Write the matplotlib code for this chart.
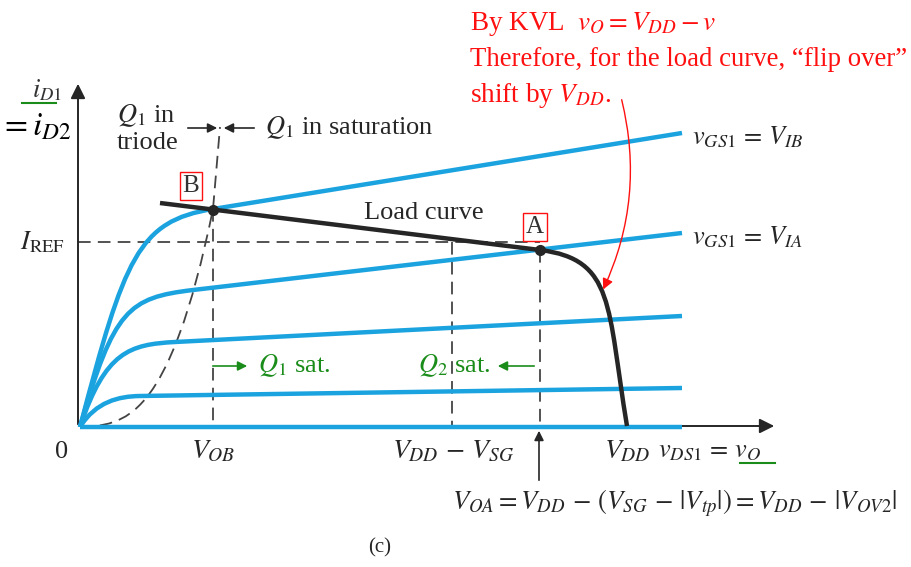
import matplotlib
matplotlib.use("Agg")
import matplotlib.pyplot as plt
from matplotlib.path import Path
from matplotlib.patches import PathPatch, FancyArrowPatch

plt.rcParams['font.family'] = ['Liberation Serif', 'DejaVu Serif']
plt.rcParams['mathtext.fontset'] = 'stix'

# drain characteristics of Q1 (units: horizontal = v_DS, vertical = i_D)
v_end = 602
knee_v = [133, 113, 95, 60]
knee_i = [218, 137, 85, 31]
end_i = [294, 194, 111, 39]
start_handle = [(44.6, 169), (33.8, 118), (25.2, 75.7), (15.9, 25.4)]
knee_handle = [(57.7, 206), (48.5, 129.3), (49.8, 82.6), (38.8, 30.7)]

# triode / saturation boundary
boundary_pts = [(0, 0), (44, 2), (89, 4), (133, 218)]
boundary_top = (140, 300)

# load curve (Q2 characteristic, flipped and shifted by V_DD)
load_start = (80, 224)
point_B = (133, 218)
point_A = (460, 177)
load_handles = [(535, 167.7), (527, 121)]
V_DD = 547
I_REF = 185
V_DD_minus_VSG = 372

blue = '#1ba3e0'
dark = '#262626'
green = '#1a8c1a'
red = '#ff1010'

fig = plt.figure(figsize=(9.11, 5.67), dpi=100)
ax = fig.add_axes([0, 0, 1, 1])
ax.set_xlim(-80, 831)
ax.set_ylim(-140, 427)
ax.axis('off')

# axes with arrows
ax.annotate('', xy=(-2, 346), xytext=(-2, 0),
            arrowprops=dict(arrowstyle='-|>', color=dark, lw=1.4, mutation_scale=22))
ax.annotate('', xy=(697, 1), xytext=(-2, 1),
            arrowprops=dict(arrowstyle='-|>', color=dark, lw=1.4, mutation_scale=22))

dash = (0, (7, 4))
# dashed guides
ax.plot([-2, point_A[0]], [I_REF, I_REF], color='#444444', lw=1.3, ls=dash, zorder=2)
ax.plot([point_B[0], point_B[0]], [point_B[1], 0], color='#444444', lw=1.3, ls=dash, zorder=2)
ax.plot([V_DD_minus_VSG, V_DD_minus_VSG], [I_REF, 0], color='#444444', lw=1.3, ls=dash, zorder=2)
ax.plot([point_A[0], point_A[0]], [point_A[1], 0], color='#444444', lw=1.3, ls=dash, zorder=2)

bpath = Path(boundary_pts + [boundary_top],
             [Path.MOVETO, Path.CURVE4, Path.CURVE4, Path.CURVE4, Path.LINETO])
ax.add_patch(PathPatch(bpath, fill=False, ec='#444444', lw=1.3, ls=dash, zorder=2))

# blue family of curves
for kv, ki, ei, h1, h2 in zip(knee_v, knee_i, end_i, start_handle, knee_handle):
    p = Path([(0, 0), h1, h2, (kv, ki), (v_end, ei)],
             [Path.MOVETO, Path.CURVE4, Path.CURVE4, Path.CURVE4, Path.LINETO])
    ax.add_patch(PathPatch(p, fill=False, ec=blue, lw=3.2, capstyle='butt', zorder=3))
ax.plot([0, v_end], [0, 0], color=blue, lw=3.2, solid_capstyle='butt', zorder=3)

# load curve
lpath = Path([load_start, point_A, load_handles[0], load_handles[1], (V_DD, 1)],
             [Path.MOVETO, Path.LINETO, Path.CURVE4, Path.CURVE4, Path.CURVE4])
ax.add_patch(PathPatch(lpath, fill=False, ec=dark, lw=3.2, capstyle='butt', zorder=4))
ax.plot([point_B[0], point_A[0]], [point_B[1] - 0.5, point_A[1]], 'o',
        color=dark, ms=7, zorder=5)

fs = 19
box = dict(boxstyle='square,pad=0.12', fc='white', ec=red, lw=1)
ax.text(point_B[0] - 22, 241, 'B', fontsize=18, ha='center', va='center', color='#333333',
        bbox=box, zorder=6)
ax.text(point_A[0] - 5, 200, 'A', fontsize=18, ha='center', va='center', color='#333333',
        bbox=box, zorder=6)
ax.text(344, 214, 'Load curve', fontsize=fs, ha='center', va='center', color=dark)

# vertical axis label
ax.text(-33, 337, '$i_{D1}$', fontsize=19, ha='center', va='center', color='#333333')
ax.plot([-58, -24], [324, 324], color=green, lw=1.5)
ax.text(-44, 300, '$=i_{D2}$', fontsize=24, ha='center', va='center', color='black')
ax.text(-15, 185, r'$I_{\mathrm{REF}}$', fontsize=fs, ha='right', va='center', color=dark)

# triode / saturation marker
ax.text(37, 311, '$Q_1$ in', fontsize=fs, ha='left', va='center', color=dark)
ax.text(37, 284, 'triode', fontsize=fs, ha='left', va='center', color=dark)
ax.annotate('', xy=(140, 299), xytext=(105, 299),
            arrowprops=dict(arrowstyle='-|>', color=dark, lw=1.2, mutation_scale=14))
ax.annotate('', xy=(141, 299), xytext=(177, 299),
            arrowprops=dict(arrowstyle='-|>', color=dark, lw=1.2, mutation_scale=14))
ax.text(185, 299, '$Q_1$ in saturation', fontsize=fs, ha='left', va='center', color=dark)

ax.text(612, 290, '$v_{GS1}\\,=\\,V_{IB}$', fontsize=fs, ha='left', va='center', color=dark)
ax.text(612, 190, '$v_{GS1}\\,=\\,V_{IA}$', fontsize=fs, ha='left', va='center', color=dark)

# horizontal axis labels
ax.text(-18, -25, '0', fontsize=fs, ha='center', va='center', color=dark)
ax.text(point_B[0], -25, '$V_{OB}$', fontsize=20, ha='center', va='center', color=dark)
ax.text(V_DD_minus_VSG + 1, -25, '$V_{DD}\\,-\\,V_{SG}$', fontsize=20, ha='center', va='center',
        color=dark)
ax.text(V_DD, -25, '$V_{DD}$', fontsize=20, ha='center', va='center', color=dark)
ax.text(578, -25, '$v_{DS1}\\,=\\,v_O$', fontsize=fs, ha='left', va='center', color=dark)
ax.plot([660, 695], [-36, -36], color=green, lw=1.5)

ax.annotate('', xy=(point_A[0] - 1, -1), xytext=(point_A[0] - 1, -56),
            arrowprops=dict(arrowstyle='-|>', color=dark, lw=1.2, mutation_scale=14))
ax.text(372, -76, '$V_{OA} = V_{DD}\\,-\\,(V_{SG}\\,-\\,|V_{tp}|) = V_{DD}\\,-\\,|V_{OV2}|$',
        fontsize=19.3, ha='left', va='center', color=dark)
ax.text(300, -121, '(c)', fontsize=15, ha='center', va='center', color=dark)

# saturation regions
ax.annotate('', xy=(170, 61), xytext=(130, 61),
            arrowprops=dict(arrowstyle='-|>', color=green, lw=1.2, mutation_scale=14))
ax.text(178, 61, '$Q_1$ sat.', fontsize=fs, ha='left', va='center', color=green)
ax.annotate('', xy=(415, 61), xytext=(457, 61),
            arrowprops=dict(arrowstyle='-|>', color=green, lw=1.2, mutation_scale=14))
ax.text(338, 61, '$Q_2$ sat.', fontsize=fs, ha='left', va='center', color=green)

# red note
ax.text(390, 403, 'By KVL  $v_O = V_{DD} - v$', fontsize=19.5, ha='left', va='center', color=red)
ax.text(390, 368, 'Therefore, for the load curve, \u201cflip over\u201d', fontsize=19.3,
        ha='left', va='center', color=red)
ax.text(390, 331, 'shift by $V_{DD}$.', fontsize=19.5, ha='left', va='center', color=red)
ax.add_patch(FancyArrowPatch((541, 330), (522, 135), connectionstyle='arc3,rad=-0.18',
                             arrowstyle='-|>', color=red, lw=1.0, mutation_scale=16, zorder=6))

fig.savefig('out.png', dpi=100)
